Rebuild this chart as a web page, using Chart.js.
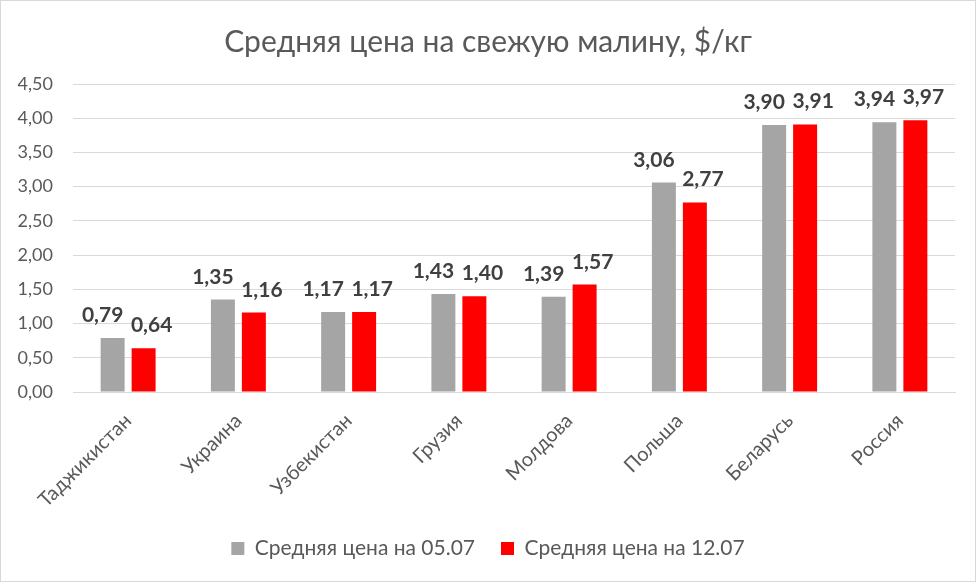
<!DOCTYPE html>
<html lang="ru">
<head>
  <meta charset="UTF-8">
  <title>Средняя цена на свежую малину</title>
  <script src="https://cdn.jsdelivr.net/npm/chart.js"></script>
  <style>
    html, body { margin: 0; padding: 0; background: #fff; }
    .wrap { width: 974px; height: 580px; border: 1px solid #d9d9d9; position: relative; }
  </style>
</head>
<body>
  <div class="wrap"><canvas id="chart"></canvas></div>

  <script>
    const strany = ['Таджикистан', 'Украина', 'Узбекистан', 'Грузия', 'Молдова', 'Польша', 'Беларусь', 'Россия'];
    const cena0507 = [0.79, 1.35, 1.17, 1.43, 1.39, 3.06, 3.90, 3.94];
    const cena1207 = [0.64, 1.16, 1.17, 1.40, 1.57, 2.77, 3.91, 3.97];

    const fontName = 'Lato, "Open Sans", sans-serif';
    const szary = '#595959';

    const fmt = v => v.toFixed(2).replace('.', ',');

    // podpisy nad słupkami (lekko rozsunięte na boki jak w oryginale)
    const przesuniecie = [-10, 8];
    const etykiety = {
      id: 'etykiety',
      afterDatasetsDraw(chart) {
        const ctx = chart.ctx;
        ctx.save();
        ctx.font = 'bold 21px ' + fontName;
        ctx.fillStyle = '#404040';
        ctx.textAlign = 'center';
        ctx.textBaseline = 'alphabetic';
        chart.data.datasets.forEach((ds, i) => {
          chart.getDatasetMeta(i).data.forEach((bar, j) => {
            ctx.fillText(fmt(ds.data[j]), bar.x + przesuniecie[i], bar.y - 16);
          });
        });
        ctx.restore();
      }
    };

    new Chart(document.getElementById('chart'), {
      type: 'bar',
      data: {
        labels: strany,
        datasets: [
          { label: 'Средняя цена на 05.07', data: cena0507, backgroundColor: '#a5a5a5' },
          { label: 'Средняя цена на 12.07', data: cena1207, backgroundColor: '#ff0000' }
        ]
      },
      options: {
        responsive: true,
        maintainAspectRatio: false,
        animation: false,
        datasets: { bar: { categoryPercentage: 0.562, barPercentage: 0.774 } },
        layout: { padding: { left: 0, right: 0, top: 0, bottom: 12 } },
        plugins: {
          title: {
            display: true,
            text: 'Средняя цена на свежую малину, $/кг',
            color: szary,
            font: { family: fontName, size: 30, weight: 'normal' },
            padding: { top: 23, bottom: 24 }
          },
          legend: {
            position: 'bottom',
            labels: {
              color: szary,
              font: { family: fontName, size: 21 },
              boxWidth: 13, boxHeight: 13,
              padding: 26
            }
          },
          tooltip: { enabled: false }
        },
        scales: {
          x: {
            grid: { display: false },
            border: { color: '#d9d9d9' },
            afterFit: s => { s.height = 120; },
            ticks: {
              color: szary,
              padding: 9,
              font: { family: fontName, size: 20 },
              minRotation: 45, maxRotation: 45
            }
          },
          y: {
            min: 0, max: 4.5,
            grid: { color: '#d9d9d9', drawTicks: false },
            border: { display: false },
            afterFit: s => { s.width = 72; },
            ticks: {
              stepSize: 0.5,
              color: szary,
              padding: 20,
              font: { family: fontName, size: 18 },
              callback: v => fmt(v)
            }
          },
          // pusty margines po prawej stronie obszaru wykresu
          yPrawa: {
            position: 'right',
            grid: { display: false },
            border: { display: false },
            ticks: { display: false },
            afterFit: s => { s.width = 20; }
          }
        }
      },
      plugins: [etykiety]
    });
  </script>
</body>
</html>
